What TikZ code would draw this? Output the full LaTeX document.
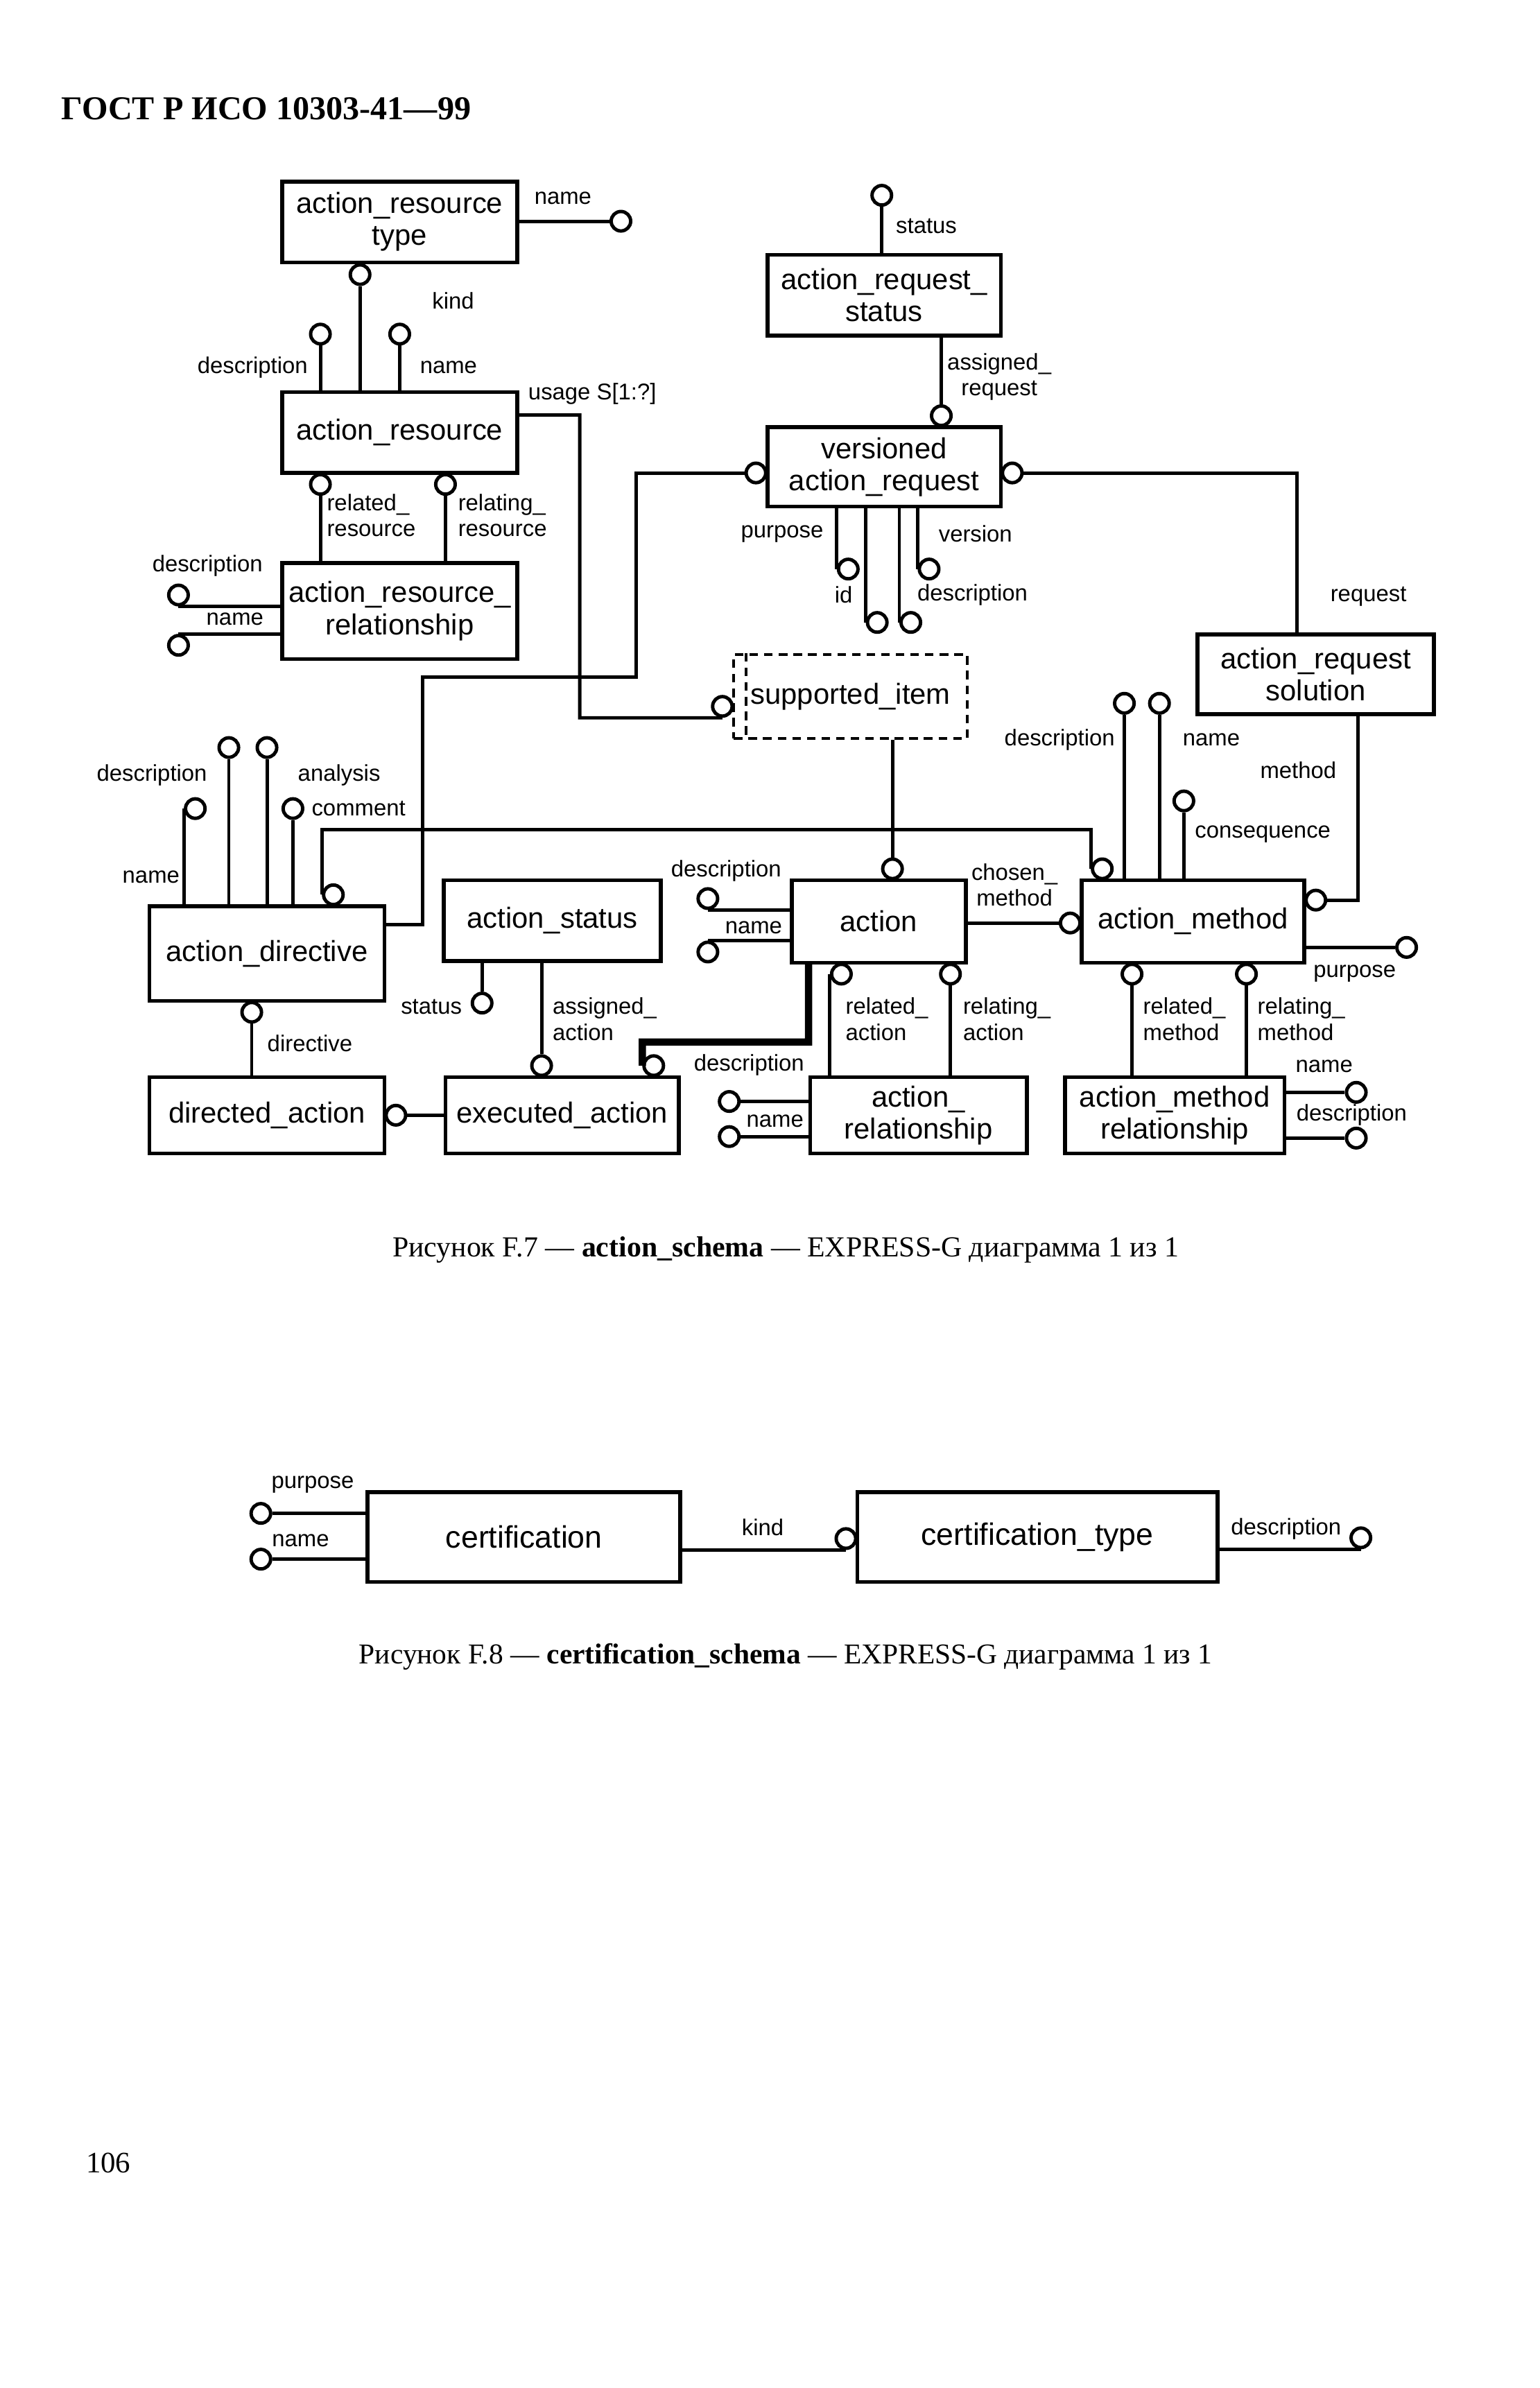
\documentclass[tikz,border=0pt]{standalone}
\usepackage{fontspec}
\setmainfont{Liberation Serif}
\newfontfamily\diagfont{Liberation Sans}
\usepackage{tikz}
\usetikzlibrary{shapes}
\newcommand{\pxu}{0.2200mm}
\newcommand{\entfont}{\diagfont\fontsize{11.9pt}{13.1pt}\selectfont}
\newcommand{\bigentfont}{\diagfont\fontsize{12.7pt}{14.2pt}\selectfont}
\newcommand{\lblfont}{\diagfont\fontsize{9.35pt}{10.55pt}\selectfont}
\tikzstyle{entity} = [rectangle, draw, line width=1.6pt, align=center, inner sep=0pt,
    font=\entfont, minimum width=154*\pxu, minimum height=53*\pxu]
\tikzstyle{selectbox} = [rectangle, draw, dash pattern=on 3.5pt off 2.5pt, line width=1.1pt,
    align=center, inner sep=0pt, font=\entfont, minimum width=153*\pxu, minimum height=55*\pxu]
\tikzstyle{attrib} = [circle, draw, line width=1.4pt, minimum size=8pt, inner sep=0pt]
\tikzstyle{lbl} = [inner sep=0pt, font=\lblfont, align=left]
\tikzstyle{rel} = [line width=1.4pt]
\tikzstyle{subtype} = [line width=3pt]

\begin{document}
\begin{tikzpicture}[x=\pxu, y=-\pxu]
    \useasboundingbox (0,0) rectangle (1009,1565.3);
    \path[fill=white] (0,0) rectangle (1009,1565.3);

    \node[anchor=west, inner sep=0pt, font=\bfseries\fontsize{13.7pt}{15pt}\selectfont] (header) at (40,71) {ГОСТ Р ИСО 10303-41—99};

    % entities of action_schema
    \node[entity] (arType) at (262,145.5) {action\_resource\\type};
    \node[entity] (ar) at (262,283.5) {action\_resource};
    \node[entity, minimum height=63*\pxu] (arRel) at (262,400.5) {action\_resource\_\\relationship};
    \node[entity, minimum width=153*\pxu] (arStatus) at (579.5,193.5) {action\_request\_\\status};
    \node[entity, minimum width=153*\pxu, minimum height=52*\pxu] (verReq) at (579.5,306) {versioned\\action\_request};
    \node[selectbox] (supItem) at (557.5,456.5) {supported\_item};
    \node[entity, minimum width=155*\pxu, minimum height=52*\pxu] (reqSol) at (862.5,442) {action\_request\\solution};
    \node[entity, minimum height=62*\pxu] (actDir) at (175,625) {action\_directive};
    \node[entity, minimum width=142*\pxu] (actStatus) at (362,603.5) {action\_status};
    \node[entity, minimum width=114*\pxu, minimum height=54*\pxu] (act) at (576,604) {action};
    \node[entity, minimum width=146*\pxu, minimum height=54*\pxu] (actMeth) at (782,604) {action\_method};
    \node[entity, minimum height=50*\pxu] (dirAct) at (175,731) {directed\_action};
    \node[entity, minimum width=153*\pxu, minimum height=50*\pxu] (exeAct) at (368.5,731) {executed\_action};
    \node[entity, minimum width=142*\pxu, minimum height=50*\pxu] (actRel) at (602,731) {action\_\\relationship};
    \node[entity, minimum width=144*\pxu, minimum height=50*\pxu] (methRel) at (770,731) {action\_method\\relationship};

    \path[draw, dash pattern=on 3.5pt off 2.5pt, line width=1.1pt]
        ([xshift=9*\pxu]supItem.north west) -- ([xshift=9*\pxu]supItem.south west);

    % attribute circles
    \node[attrib] (arTypeNameC) at (407,145) {};
    \node[attrib] (kindC) at (236,180) {};
    \node[attrib] (arDescC) at (210,219) {};
    \node[attrib] (arNameC) at (262,219) {};
    \node[attrib] (relResC) at (210,317.5) {};
    \node[attrib] (relingResC) at (292,317.5) {};
    \node[attrib] (arrDescC) at (117,390) {};
    \node[attrib] (arrNameC) at (117,423) {};
    \node[attrib] (usageC) at (473.5,463) {};
    \node[attrib] (statusC) at (578,128) {};
    \node[attrib] (assignReqC) at (617,272.5) {};
    \node[attrib] (verReqL) at (495.5,310) {};
    \node[attrib] (verReqR) at (663.5,310) {};
    \node[attrib] (purposeC) at (556,373) {};
    \node[attrib] (idC) at (575,408) {};
    \node[attrib] (verDescC) at (597,408) {};
    \node[attrib] (versionC) at (609,373) {};
    \node[attrib] (amSolC) at (862.5,590) {};
    \node[attrib] (amDescC) at (737,461) {};
    \node[attrib] (amNameC) at (760,461) {};
    \node[attrib] (amConsC) at (776,525) {};
    \node[attrib] (amSelC) at (722.5,569.5) {};
    \node[attrib] (amPurposeC) at (922,621) {};
    \node[attrib] (amRelatedC) at (742,638.5) {};
    \node[attrib] (amRelatingC) at (817,638.5) {};
    \node[attrib] (mrNameC) at (889,716) {};
    \node[attrib] (mrDescC) at (889,746) {};
    \node[attrib] (actSelC) at (585,569.5) {};
    \node[attrib] (actDescC) at (464,589) {};
    \node[attrib] (actNameC) at (464,624) {};
    \node[attrib] (amChosenC) at (701.5,605) {};
    \node[attrib] (actRelatedC) at (551.5,638.5) {};
    \node[attrib] (actRelatingC) at (623,638.5) {};
    \node[attrib] (exeSubC) at (428.5,698.5) {};
    \node[attrib] (arlDescC) at (478,722) {};
    \node[attrib] (arlNameC) at (478,745) {};
    \node[attrib] (adNameC) at (128,530) {};
    \node[attrib] (adDescC) at (150,490) {};
    \node[attrib] (adAnalysisC) at (175,490) {};
    \node[attrib] (adCommentC) at (192,530) {};
    \node[attrib] (adSelC) at (218.5,586.5) {};
    \node[attrib] (adDirC) at (165,663.5) {};
    \node[attrib] (daSubC) at (259.5,731) {};
    \node[attrib] (eaAssignC) at (355,698.5) {};
    \node[attrib] (asStatusC) at (316,657.5) {};

    \coordinate (usageBend) at (380,470.5);
    \coordinate (dirBendA) at (277,444);
    \coordinate (dirBendB) at (417,310);
    \coordinate (selBus) at (585,544);
    \coordinate (subBend) at (421,683);

    % labels
    \node[lbl] (lArTypeName) at (369,130) {name};
    \node[lbl] (lKind) at (297,197) {kind};
    \node[lbl, anchor=east] (lArDesc) at (202,241) {description};
    \node[lbl, anchor=west] (lArName) at (275,241) {name};
    \node[lbl, anchor=west] (lUsage) at (346,258) {usage S[1:?]};
    \node[lbl, anchor=west] (lRelRes) at (214,338) {related\_\\resource};
    \node[lbl, anchor=west] (lRelingRes) at (300,338) {relating\_\\resource};
    \node[lbl] (lArrDesc) at (136,371) {description};
    \node[lbl, anchor=east] (lArrName) at (173,406) {name};
    \node[lbl, anchor=west] (lStatus) at (587,148) {status};
    \node[lbl, align=center] (lAssignReq) at (655,247) {assigned\_\\request};
    \node[lbl, anchor=east] (lPurpose) at (540,350) {purpose};
    \node[lbl] (lId) at (553,390) {id};
    \node[lbl, anchor=west] (lVerDesc) at (601,390) {description};
    \node[lbl, anchor=west] (lVersion) at (615,350) {version};
    \node[lbl] (lRequest) at (897,391) {request};
    \node[lbl] (lMethod) at (851,505) {method};
    \node[lbl, anchor=east] (lAmDesc) at (731,485) {description};
    \node[lbl, anchor=west] (lAmName) at (775,485) {name};
    \node[lbl, anchor=west] (lAmCons) at (783,547) {consequence};
    \node[lbl] (lAmPurpose) at (888,638) {purpose};
    \node[lbl, anchor=west] (lAmRelated) at (749,668) {related\_\\method};
    \node[lbl, anchor=west] (lAmRelating) at (824,668) {relating\_\\method};
    \node[lbl] (lMrName) at (868,699) {name};
    \node[lbl] (lMrDesc) at (886,731) {description};
    \node[lbl] (lActDesc) at (476,571) {description};
    \node[lbl] (lActName) at (494,608) {name};
    \node[lbl, align=center] (lChosen) at (665,580) {chosen\_\\method};
    \node[lbl, anchor=west] (lActRelated) at (554,668) {related\_\\action};
    \node[lbl, anchor=west] (lActRelating) at (631,668) {relating\_\\action};
    \node[lbl] (lArlDesc) at (491,698) {description};
    \node[lbl] (lArlName) at (508,735) {name};
    \node[lbl, anchor=east] (lAdName) at (118,575) {name};
    \node[lbl, anchor=east] (lAdDesc) at (136,508) {description};
    \node[lbl, anchor=west] (lAdAnalysis) at (195,508) {analysis};
    \node[lbl, anchor=west] (lAdComment) at (204,530) {comment};
    \node[lbl, anchor=west] (lDirective) at (175,684) {directive};
    \node[lbl, anchor=east] (lAsStatus) at (303,660) {status};
    \node[lbl, anchor=west] (lAssignAct) at (362,668) {assigned\_\\action};

    % connectors
    \path[draw,rel] (arTypeNameC) -- (arTypeNameC -| arType.east);
    \path[draw,rel] (kindC) -- (kindC |- ar.north);
    \path[draw,rel] (arDescC) -- (arDescC |- ar.north);
    \path[draw,rel] (arNameC) -- (arNameC |- ar.north);
    \path[draw,rel] (relResC) -- (relResC |- arRel.north);
    \path[draw,rel] (relingResC) -- (relingResC |- arRel.north);
    \path[draw,rel] (arrDescC.south) -- (arrDescC.south -| arRel.west);
    \path[draw,rel] (arrNameC.north) -- (arrNameC.north -| arRel.west);
    \path[draw,rel] ([yshift=11.5*\pxu]ar.east) -| (usageBend) -- (usageC.south);

    \path[draw,rel] (statusC) -- (statusC |- arStatus.north);
    \path[draw,rel] (assignReqC) -- (assignReqC |- arStatus.south);
    \path[draw,rel] ([yshift=19*\pxu]actDir.east) -| (dirBendA) -| (dirBendB) -- (verReqL);
    \path[draw,rel] (verReqR) -| ([xshift=-12.5*\pxu]reqSol.north);
    \path[draw,rel] (purposeC.west |- verReq.south) -- (purposeC.west);
    \path[draw,rel] (idC.west |- verReq.south) -- (idC.west);
    \path[draw,rel] (verDescC.west |- verReq.south) -- (verDescC.west);
    \path[draw,rel] (versionC.west |- verReq.south) -- (versionC.west);

    \path[draw,rel] ([xshift=27.5*\pxu]reqSol.south) |- (amSolC);
    \path[draw,rel] (amDescC) -- (amDescC |- actMeth.north);
    \path[draw,rel] (amNameC) -- (amNameC |- actMeth.north);
    \path[draw,rel] (amConsC) -- (amConsC |- actMeth.north);
    \path[draw,rel] (amPurposeC) -- (amPurposeC -| actMeth.east);
    \path[draw,rel] (amRelatedC) -- (amRelatedC |- methRel.north);
    \path[draw,rel] (amRelatingC) -- (amRelatingC |- methRel.north);
    \path[draw,rel] (mrNameC) -- (mrNameC -| methRel.east);
    \path[draw,rel] (mrDescC) -- (mrDescC -| methRel.east);

    \path[draw,rel] (adSelC.west) |- (selBus) -| (amSelC.west);
    \path[draw,rel] (supItem.south -| selBus) -- (actSelC);

    \path[draw,rel] (actDescC.south) -- (actDescC.south -| act.west);
    \path[draw,rel] (actNameC.north) -- (actNameC.north -| act.west);
    \path[draw,rel] (amChosenC) -- (amChosenC -| act.east);
    \path[draw,rel] (actRelatedC.west) -- (actRelatedC.west |- actRel.north);
    \path[draw,rel] (actRelatingC) -- (actRelatingC |- actRel.north);
    \path[draw,subtype] ([xshift=-46*\pxu]act.south) |- (subBend) -- (exeSubC.west);
    \path[draw,rel] (arlDescC) -- (arlDescC -| actRel.west);
    \path[draw,rel] (arlNameC) -- (arlNameC -| actRel.west);

    \path[draw,rel] (adNameC.west) -- (adNameC.west |- actDir.north);
    \path[draw,rel] (adDescC) -- (adDescC |- actDir.north);
    \path[draw,rel] (adAnalysisC) -- (adAnalysisC |- actDir.north);
    \path[draw,rel] (adCommentC) -- (adCommentC |- actDir.north);
    \path[draw,rel] (adDirC) -- (adDirC |- dirAct.north);
    \path[draw,rel] (daSubC) -- (daSubC -| exeAct.west);
    \path[draw,rel] (eaAssignC) -- (eaAssignC |- actStatus.south);
    \path[draw,rel] (asStatusC) -- (asStatusC |- actStatus.south);

    \node[font=\fontsize{11.9pt}{13pt}\selectfont] (capA) at (515,819)
        {Рисунок F.7 — \textbf{action\_schema} — EXPRESS-G диаграмма 1 из 1};

    % certification_schema
    \node[entity, minimum width=205*\pxu, minimum height=59*\pxu, font=\bigentfont] (cert) at (343.5,1007.5) {certification};
    \node[entity, minimum width=236*\pxu, minimum height=59*\pxu, font=\bigentfont] (certType) at (680,1007.5) {certification\_type};
    \node[attrib] (certPurposeC) at (171,992) {};
    \node[attrib] (certNameC) at (171,1022) {};
    \node[attrib] (certKindC) at (554.5,1008.5) {};
    \node[attrib] (ctDescC) at (892,1008) {};
    \node[lbl] (lCertPurpose) at (205,973) {purpose};
    \node[lbl, anchor=west] (lCertName) at (178,1010) {name};
    \node[lbl] (lCertKind) at (500,1001) {kind};
    \node[lbl] (lCtDesc) at (843,1002) {description};
    \path[draw,rel] (certPurposeC) -- (certPurposeC -| cert.west);
    \path[draw,rel] (certNameC) -- (certNameC -| cert.west);
    \path[draw,rel] (certKindC.south) -- (certKindC.south -| cert.east);
    \path[draw,rel] (ctDescC.south) -- (ctDescC.south -| certType.east);

    \node[font=\fontsize{11.8pt}{13pt}\selectfont] (capB) at (515,1086)
        {Рисунок F.8 — \textbf{certification\_schema} — EXPRESS-G диаграмма 1 из 1};

    \node[font=\fontsize{12.2pt}{14pt}\selectfont] (pageNo) at (71,1418) {106};
\end{tikzpicture}
\end{document}
